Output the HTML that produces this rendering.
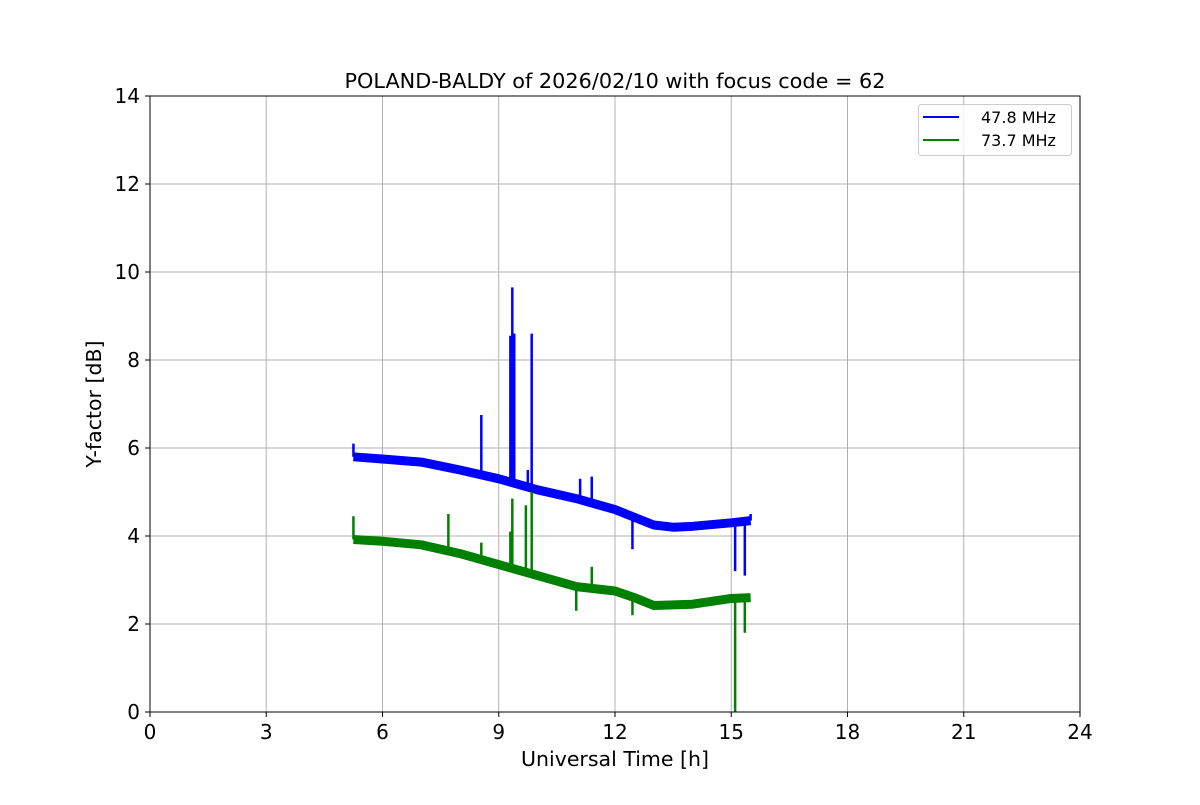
<!DOCTYPE html>
<html><head><meta charset="utf-8"><style>
body{margin:0;background:#fff}
svg text{font-family:"DejaVu Sans","Liberation Sans",sans-serif;fill:#000}
</style></head><body>
<svg id="chart" width="1200" height="800">
<g id="grid"></g>
<g id="series"></g>
<rect x="150" y="96" width="930" height="616" fill="none" stroke="#000" stroke-width="1"/>
<g id="ticks"></g>
<text x="615" y="88" font-size="20.8" text-anchor="middle">POLAND-BALDY of 2026/02/10 with focus code = 62</text>
<text x="615" y="766" font-size="20.5" text-anchor="middle">Universal Time [h]</text>
<text x="101" y="404" font-size="20.5" text-anchor="middle" transform="rotate(-90 101 404)">Y-factor [dB]</text>
<g>
<rect x="918.5" y="104.5" width="153" height="51" rx="3" fill="#fff" fill-opacity="0.8" stroke="#ccc"/>
<line x1="923" y1="117" x2="959" y2="117" stroke="#0000ff" stroke-width="2"/>
<text x="981" y="123" font-size="16">47.8 MHz</text>
<line x1="923" y1="140" x2="959" y2="140" stroke="#008000" stroke-width="2"/>
<text x="981" y="146" font-size="16">73.7 MHz</text>
</g>
</svg>
<script>
const xTicks=[0,3,6,9,12,15,18,21,24];
const yTicks=[0,2,4,6,8,10,12,14];
const blueT=[5.25,6,7,8,9,10,11,12,13,13.5,14,15,15.5];
const blueV=[5.8,5.75,5.68,5.5,5.3,5.05,4.85,4.6,4.25,4.2,4.22,4.3,4.35];
const greenT=[5.25,6,7,8,9,10,11,12,12.5,13,14,15,15.5];
const greenV=[3.92,3.88,3.8,3.6,3.35,3.1,2.85,2.75,2.6,2.42,2.45,2.58,2.6];
const blueSpikeT=[5.25,8.55,9.3,9.35,9.4,9.75,9.85,11.1,11.4,12.45,15.1,15.35,15.5];
const blueSpikeV=[6.1,6.75,8.55,9.65,8.6,5.5,8.6,5.3,5.35,3.7,3.2,3.1,4.5];
const greenSpikeT=[5.25,7.7,8.55,9.3,9.35,9.7,9.85,11.0,11.4,12.45,15.1,15.35];
const greenSpikeV=[4.45,4.5,3.85,4.1,4.85,4.7,5.0,2.3,3.3,2.2,0,1.8];
const NS="http://www.w3.org/2000/svg";
const X=t=>150+t*930/24, Y=v=>712-v*616/14;
function mk(tag,attrs,parent){const e=document.createElementNS(NS,tag);for(const k in attrs)e.setAttribute(k,attrs[k]);document.getElementById(parent).appendChild(e);return e;}
xTicks.forEach(t=>{
 const g=mk('line',{x1:X(t),x2:X(t),y1:96,y2:712,stroke:'#b0b0b0','stroke-width':1},'grid');
 
 
 const k=mk('line',{x1:X(t),x2:X(t),y1:712,y2:717,stroke:'#000'},'ticks');
 
 
 const l=mk('text',{x:X(t),y:739,'font-size':20,'text-anchor':'middle'},'ticks');l.textContent=t;
 
 
});
yTicks.forEach(v=>{
 const g=mk('line',{x1:150,x2:1080,y1:Y(v),y2:Y(v),stroke:'#b0b0b0','stroke-width':1},'grid');
 
 
 const k=mk('line',{x1:145,x2:150,y1:Y(v),y2:Y(v),stroke:'#000'},'ticks');
 
 
 const l=mk('text',{x:140,y:Y(v)+7,'font-size':20,'text-anchor':'end'},'ticks');l.textContent=v;
 
 
});
function interp(T,V,t){for(let i=0;i<T.length-1;i++){if(t<=T[i+1])return V[i]+(V[i+1]-V[i])*(t-T[i])/(T[i+1]-T[i]);}return V[V.length-1];}
function series(T,V,ST,SV,color,name){
 const d=T.map((t,i)=>(i?'L':'M')+X(t)+' '+Y(V[i])).join(' ');
 const p=mk('path',{d:d,fill:'none',stroke:color,'stroke-width':9,'stroke-linejoin':'round'},'series');
 
 
 ST.forEach((t,i)=>{
  const s=mk('line',{x1:X(t),x2:X(t),y1:Y(interp(T,V,t)),y2:Y(SV[i]),stroke:color,'stroke-width':2.5},'series');
  
  
 });
}
series(blueT,blueV,blueSpikeT,blueSpikeV,'#0000ff','series-47-8');
series(greenT,greenV,greenSpikeT,greenSpikeV,'#008000','series-73-7');
</script>
</body></html>
